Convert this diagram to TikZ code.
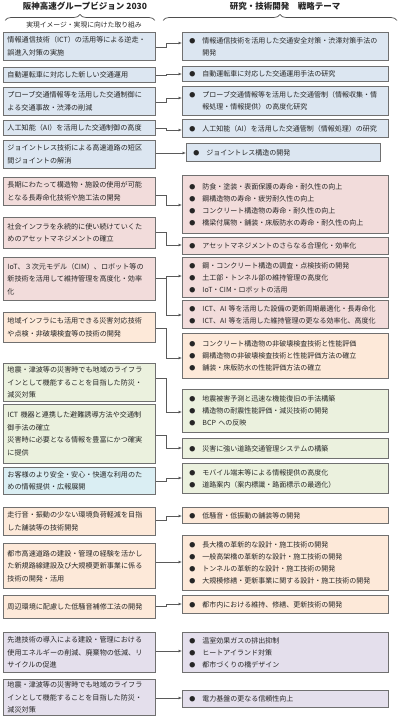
\documentclass[tikz,border=0pt]{standalone}
\usepackage{fontspec}
\setmainfont{Noto Sans CJK JP}
\usetikzlibrary{arrows.meta,decorations.pathreplacing}
\definecolor{cblue}{HTML}{DCE6F1}
\definecolor{ccyan}{HTML}{DAEEF3}
\definecolor{cpink}{HTML}{F2DCDB}
\definecolor{cpeach}{HTML}{FDE9D9}
\definecolor{cgreen}{HTML}{EBF1DE}
\definecolor{clav}{HTML}{E4DFEC}
\definecolor{cedge}{HTML}{707070}
\definecolor{ctext}{HTML}{262626}
\newcommand\bl[1]{\makebox[13pt][l]{\fontsize{6}{6}\selectfont ●}#1}
\newcommand\ct[1]{\hspace*{13pt}#1}
\tikzset{
  lbox/.style={draw=cedge, line width=0.9pt, anchor=north west, inner xsep=4pt, inner ysep=0pt,
    text width=144pt, align=left, text=ctext, font=\fontsize{7.1}{12.5}\selectfont},
  rbox/.style={draw=cedge, line width=0.9pt, anchor=north west, inner xsep=7pt, inner ysep=0pt,
    text width=192pt, align=left, text=ctext, font=\fontsize{7}{12}\selectfont},
  conn/.style={draw=cedge!80!black, line width=0.7pt, -{Latex[length=3.5pt,width=3pt]}},
  bracebar/.style={draw=cedge!70!black, line width=0.7pt, decorate, decoration={brace, amplitude=6pt}},
  ttl/.style={font=\bfseries\fontsize{8.5}{10}\selectfont, text=ctext},
  subttl/.style={font=\fontsize{6.8}{8}\selectfont, text=ctext}
}
\begin{document}
\begin{tikzpicture}[x=1pt,y=-1pt]
\useasboundingbox (0,0) rectangle (400,719);
% titles
\node[ttl] (t1) at (85,6) {阪神高速グループビジョン 2030};
\node[ttl] (t2) at (285,6) {研究・技術開発　戦略テーマ};
\draw[bracebar] (5,20.5) -- (155,20.5);
\draw[bracebar] (163,20.5) -- (397,20.5);
\node[subttl] (s1) at (84,25) {実現イメージ・実現に向けた取り組み};

% left boxes
\node[lbox, fill=cblue, minimum height=28] (L1) at (3,32) {情報通信技術（ICT）の活用等による逆走・\\誤進入対策の実施};
\node[lbox, fill=cblue, minimum height=15] (L2) at (3,67) {自動運転車に対応した新しい交通運用};
\node[lbox, fill=cblue, minimum height=28] (L3) at (3,87) {プローブ交通情報等を活用した交通制御に\\よる交通事故・渋滞の削減};
\node[lbox, fill=cblue, minimum height=15] (L4) at (3,120) {人工知能（AI）を活用した交通制御の高度};
\node[lbox, fill=cblue, minimum height=28] (L5) at (3,140) {ジョイントレス技術による高速道路の短区\\間ジョイントの解消};
\node[lbox, fill=cpink, minimum height=28] (L6) at (3,177) {長期にわたって構造物・施設の使用が可能\\となる長寿命化技術や施工法の開発};
\node[lbox, fill=cpink, minimum height=31] (L7) at (3,217) {社会インフラを永続的に使い続けていくた\\めのアセットマネジメントの確立};
\node[lbox, fill=cpink, minimum height=43] (L8) at (3,257) {IoT、３次元モデル（CIM）、ロボット等の\\新技術を活用して維持管理を高度化・効率\\化};
\node[lbox, fill=cpeach, minimum height=30] (L9) at (3,312) {地域インフラにも活用できる災害対応技術\\や点検・非破壊検査等の技術の開発};
\node[lbox, fill=cgreen, minimum height=38] (L10) at (3,363) {地震・津波等の災害時でも地域のライフラ\\インとして機能することを目指した防災・\\減災対策};
\node[lbox, fill=cgreen, minimum height=59] (L11) at (3,404) {ICT 機器と連携した避難誘導方法や交通制\\御手法の確立\\災害時に必要となる情報を豊富にかつ確実\\に提供};
\node[lbox, fill=ccyan, minimum height=27] (L12) at (3,467) {お客様のより安全・安心・快適な利用のた\\めの情報提供・広報展開};
\node[lbox, fill=cpeach, minimum height=28] (L13) at (3,507) {走行音・振動の少ない環境負荷軽減を目指\\した舗装等の技術開発};
\node[lbox, fill=cpeach, minimum height=45] (L14) at (3,543) {都市高速道路の建設・管理の経験を活かし\\た新規路線建設及び大規模更新事業に係る\\技術の開発・活用};
\node[lbox, fill=cpeach, minimum height=23] (L15) at (3,595) {周辺環境に配慮した低騒音補修工法の開発};
\node[lbox, fill=clav, minimum height=40] (L16) at (3,632) {先進技術の導入による建設・管理における\\使用エネルギーの削減、廃棄物の低減、リ\\サイクルの促進};
\node[lbox, fill=clav, minimum height=36] (L17) at (3,679) {地震・津波等の災害時でも地域のライフラ\\インとして機能することを目指した防災・\\減災対策};

% right boxes
\node[rbox, fill=cblue, minimum height=28] (R1) at (182,32) {\bl{情報通信技術を活用した交通安全対策・渋滞対策手法の}\\\ct{開発}};
\node[rbox, fill=cblue, minimum height=15] (R2) at (182,66) {\bl{自動運転車に対応した交通運用手法の研究}};
\node[rbox, fill=cblue, minimum height=29] (R3) at (182,86) {\bl{プローブ交通情報等を活用した交通管制（情報収集・情}\\\ct{報処理・情報提供）の高度化研究}};
\node[rbox, fill=cblue, minimum height=18] (R4) at (182,119) {\bl{人工知能（AI）を活用した交通管制（情報処理）の研究}};
\node[rbox, fill=cblue, minimum height=18, text width=180pt] (R5) at (186,143) {\bl{ジョイントレス構造の開発}};
\node[rbox, fill=cpink, minimum height=58] (R6) at (182,175) {\bl{防食・塗装・表面保護の寿命・耐久性の向上}\\\bl{鋼構造物の寿命・疲労耐久性の向上}\\\bl{コンクリート構造物の寿命・耐久性の向上}\\\bl{橋梁付属物・舗装・床版防水の寿命・耐久性の向上}};
\node[rbox, fill=cpink, minimum height=17] (R7) at (182,237) {\bl{アセットマネジメントのさらなる合理化・効率化}};
\node[rbox, fill=cpink, minimum height=40] (R8) at (182,257) {\bl{鋼・コンクリート構造の調査・点検技術の開発}\\\bl{土工部・トンネル部の維持管理の高度化}\\\bl{IoT・CIM・ロボットの活用}};
\node[rbox, fill=cpink, minimum height=28] (R9) at (182,300) {\bl{ICT、AI 等を活用した設備の更新周期最適化・長寿命化}\\\bl{ICT、AI 等を活用した維持管理の更なる効率化、高度化}};
\node[rbox, fill=cpeach, minimum height=45] (R10) at (182,333) {\bl{コンクリート構造物の非破壊検査技術と性能評価}\\\bl{鋼構造物の非破壊検査技術と性能評価方法の確立}\\\bl{舗装・床版防水の性能評価方法の確立}};
\node[rbox, fill=cgreen, minimum height=43] (R11) at (182,389) {\bl{地震被害予測と迅速な機能復旧の手法構築}\\\bl{構造物の耐震性能評価・減災技術の開発}\\\bl{BCP への反映}};
\node[rbox, fill=cgreen, minimum height=20] (R12) at (182,438) {\bl{災害に強い道路交通管理システムの構築}};
\node[rbox, fill=cgreen, minimum height=30] (R13) at (182,463) {\bl{モバイル端末等による情報提供の高度化}\\\bl{道路案内（案内標識・路面標示の最適化）}};
\node[rbox, fill=cpeach, minimum height=16] (R14) at (182,507) {\bl{低騒音・低振動の舗装等の開発}};
\node[rbox, fill=cpeach, minimum height=55] (R15) at (182,535) {\bl{長大橋の革新的な設計・施工技術の開発}\\\bl{一般高架橋の革新的な設計・施工技術の開発}\\\bl{トンネルの革新的な設計・施工技術の開発}\\\bl{大規模修繕・更新事業に関する設計・施工技術の開発}};
\node[rbox, fill=cpeach, minimum height=18] (R16) at (182,595) {\bl{都市内における維持、修繕、更新技術の開発}};
\node[rbox, fill=clav, minimum height=40] (R17) at (182,632) {\bl{温室効果ガスの排出抑制}\\\bl{ヒートアイランド対策}\\\bl{都市づくりの橋デザイン}};
\node[rbox, fill=clav, minimum height=17] (R18) at (182,690) {\bl{電力基盤の更なる信頼性向上}};

% connectors
\draw[conn] (L1.east |- 0,47) -- (166,47) -- (166,43) -- (R1.west |- 0,43);
\draw[conn] (L2.east |- 0,75) -- (166,75) -- (166,74) -- (R2.west |- 0,74);
\draw[conn] (L3.east |- 0,102) -- (166,102) -- (166,98) -- (R3.west |- 0,98);
\draw[conn] (L4.east |- 0,128) -- (166,128) -- (166,130) -- (R4.west |- 0,130);
\draw[conn] (L5.east |- 0,153) -- (R5.west |- 0,153);
\draw[conn] (L6.east |- 0,195) -- (166,195) -- (166,205) -- (R6.west |- 0,205);
\draw[conn] (L7.east |- 0,232) -- (166,232) -- (166,245) -- (R7.west |- 0,245);
\draw[conn] (L8.east |- 0,278) -- (166,278) -- (166,276) -- (R8.west |- 0,276);
\draw[conn] (166,276) -- (166,315) -- (R9.west |- 0,315);
\draw[conn] (L9.east |- 0,328) -- (166,328) -- (166,358) -- (R10.west |- 0,358);
\draw[conn] (L10.east |- 0,378) -- (166,378) -- (166,412) -- (R11.west |- 0,412);
\draw[conn] (L11.east |- 0,435) -- (166,435) -- (166,448) -- (R12.west |- 0,448);
\draw[conn] (L12.east |- 0,481) -- (166,481) -- (166,478) -- (R13.west |- 0,478);
\draw[conn] (L13.east |- 0,520) -- (166,520) -- (166,516) -- (R14.west |- 0,516);
\draw[conn] (L14.east |- 0,562) -- (R15.west |- 0,562);
\draw[conn] (L15.east |- 0,606) -- (166,606) -- (166,604) -- (R16.west |- 0,604);
\draw[conn] (L16.east |- 0,651) -- (R17.west |- 0,651);
\draw[conn] (L17.east |- 0,698) -- (R18.west |- 0,698);
\end{tikzpicture}
\end{document}
